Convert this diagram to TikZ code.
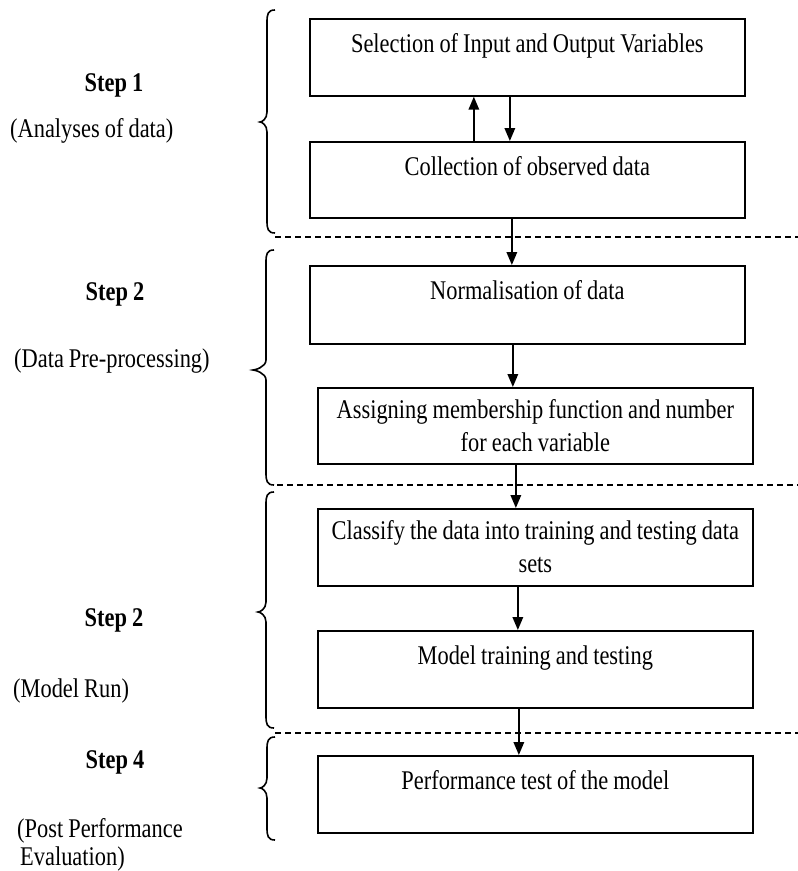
\documentclass[tikz,border=0pt]{standalone}
\usepackage{fontspec}
\setmainfont{Liberation Serif}[FakeStretch=0.83,WordSpace=0.9]
\usetikzlibrary{arrows.meta}
\tikzset{
  stepbox/.style={draw, line width=1.7pt, inner xsep=4pt, inner ysep=0pt, anchor=north west,
    align=flush center, font=\fontsize{27}{33}\selectfont},
  arr/.style={line width=1.7pt, -{Triangle[length=13pt,width=10.5pt]}},
  lbl/.style={inner sep=0pt, font=\fontsize{27}{33}\selectfont},
  steplbl/.style={inner sep=0pt, font=\fontsize{27}{33}\selectfont\bfseries, anchor=base},
  sepline/.style={line width=1.4pt, dash pattern=on 6pt off 4pt},
  bracepath/.style={line width=1.6pt}
}
\newcommand{\mybrace}[5]{% x, tip x, top, mid, bottom
  \draw[bracepath] (#1+8,#3) .. controls (#1+1,#3) and (#1,#3+4) .. (#1,#3+12)
    -- (#1,#4-10) .. controls (#1,#4-3) and (#2+2,#4) .. (#2,#4)
    .. controls (#2+2,#4) and (#1,#4+3) .. (#1,#4+10)
    -- (#1,#5-12) .. controls (#1,#5-4) and (#1+1,#5) .. (#1+8,#5);}
\begin{document}
\begin{tikzpicture}[x=1pt,y=-1pt]
\useasboundingbox (0,0) rectangle (798,871);

% boxes
\node[stepbox, minimum width=435pt, text height=34pt, text depth=43pt] (b1) at (309,18)
  {Selection of Input and Output Variables};
\node[stepbox, minimum width=435pt, text height=34pt, text depth=42pt] (b2) at (309,141)
  {Collection of observed data};
\node[stepbox, minimum width=435pt, text height=34pt, text depth=44pt] (b3) at (309,265)
  {Normalisation of data};
\node[stepbox, text width=427pt, text height=31pt, text depth=45pt] (b4) at (317,387)
  {Assigning membership function and number\\for each variable};
\node[stepbox, text width=427pt, text height=31pt, text depth=46pt] (b5) at (317,508)
  {Classify the data into training and testing data\\sets};
\node[stepbox, text width=427pt, text height=34pt, text depth=43pt] (b6) at (317,630)
  {Model training and testing};
\node[stepbox, text width=427pt, text height=34pt, text depth=43pt] (b7) at (317,755)
  {Performance test of the model};

% arrows
\draw[arr] ([xshift=-53.5pt]b2.north) -- ([xshift=-53.5pt]b1.south);
\draw[arr] ([xshift=-17.5pt]b1.south) -- ([xshift=-17.5pt]b2.north);
\draw[arr] ([xshift=-15.5pt]b2.south) -- ([xshift=-15.5pt]b3.north);
\draw[arr] ([xshift=-14.5pt]b3.south) -- ([xshift=-22.5pt]b4.north);
\draw[arr] ([xshift=-19.5pt]b4.south) -- ([xshift=-19.5pt]b5.north);
\draw[arr] ([xshift=-17.5pt]b5.south) -- ([xshift=-17.5pt]b6.north);
\draw[arr] ([xshift=-16.5pt]b6.south) -- ([xshift=-16.5pt]b7.north);

% separators
\draw[sepline] (275,237) -- (798,237);
\draw[sepline] (277,485) -- (798,485);
\draw[sepline] (275,733) -- (798,733);

% braces
\mybrace{267}{260}{10}{122}{233}
\mybrace{266}{253}{250}{370}{485}
\mybrace{266}{258}{492}{612}{728}
\mybrace{267}{260}{737}{788}{840}

% labels
\node[steplbl] (s1) at (114,91) {Step 1};
\node[lbl, anchor=base west] (a1) at (10,137) {(Analyses of data)};
\node[steplbl] (s2) at (115,300) {Step 2};
\node[lbl, anchor=base west] (a2) at (14,367) {(Data Pre-processing)};
\node[steplbl] (s3) at (114,626) {Step 2};
\node[lbl, anchor=base west] (a3) at (13,697) {(Model Run)};
\node[steplbl] (s4) at (115,768) {Step 4};
\node[lbl, anchor=base west] (a4) at (17,837) {(Post Performance};
\node[lbl, anchor=base west] (a5) at (20,865) {Evaluation)};
\end{tikzpicture}
\end{document}
